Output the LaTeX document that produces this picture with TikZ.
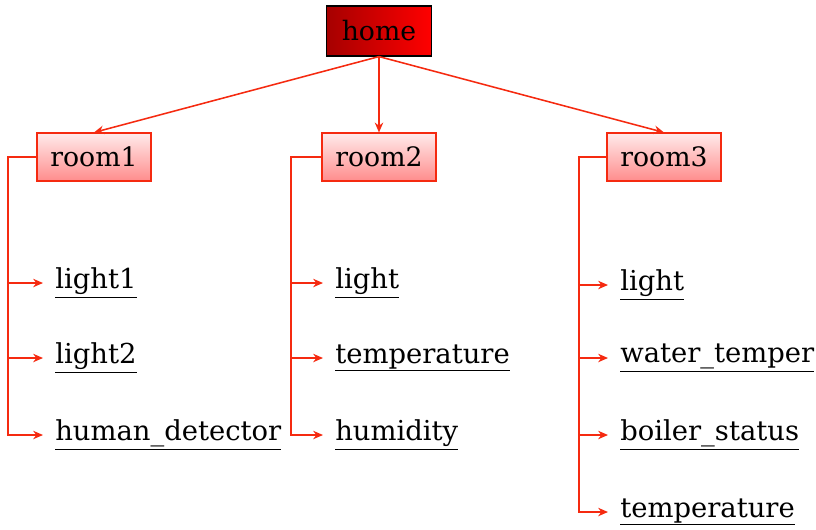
\documentclass[tikz,border=0pt]{standalone}
\usepackage{fontspec}
\setmainfont{DejaVu Serif}
\usetikzlibrary{arrows.meta}

\definecolor{linkred}{HTML}{F52A10}
\tikzstyle{rootBox}=[draw=black,thick,left color=red!65!black,right color=red,minimum width=2.625cm,minimum height=1.25cm,font=\fontsize{19}{23}\selectfont]
\tikzstyle{roomBox}=[draw=linkred,thick,top color=red!8,bottom color=red!45,minimum width=2.85cm,minimum height=1.2cm,font=\fontsize{19}{23}\selectfont]
\tikzstyle{leaf}=[anchor=west,inner sep=0.3cm,font=\fontsize{19.5}{23}\selectfont]
\tikzstyle{link}=[linkred,line width=1.1pt,-{Stealth[length=7pt,width=6pt]}]

\begin{document}
\begin{tikzpicture}[x=0.025cm,y=-0.025cm]
        \useasboundingbox (0,0) rectangle (816,529);
        % root and rooms
        \node[rootBox] (home) at (379,31) {home};
        \node[roomBox] (room1) at (94,157)  {room1};
        \node[roomBox] (room2) at (379,157) {room2};
        \node[roomBox] (room3) at (664,157) {room3};

        \draw [link] (home.south) to (room1.north);
        \draw [link] (home.south) to (room2.north);
        \draw [link] (home.south) to (room3.north);

        % leaves
        \node[leaf] (l11) at (43,283) {\underline{light1}};
        \node[leaf] (l12) at (43,358) {\underline{light2}};
        \node[leaf] (l13) at (43,435) {\underline{human\_detector}};

        \node[leaf] (l21) at (323,283) {\underline{light}};
        \node[leaf] (l22) at (323,358) {\underline{temperature}};
        \node[leaf] (l23) at (323,435) {\underline{humidity}};

        \node[leaf] (l31) at (608,285) {\underline{light}};
        \node[leaf] (l32) at (608,358) {\underline{water\_temper}};
        \node[leaf] (l33) at (608,435) {\underline{boiler\_status}};
        \node[leaf] (l34) at (608,512) {\underline{temperature}};

        \coordinate (t1) at (8,157);
        \coordinate (t2) at (291,157);
        \coordinate (t3) at (579,157);

        \draw [link] (room1.west) -- (t1) |- (l13.west);
        \draw [link] (t1 |- l11.west) -- (l11.west);
        \draw [link] (t1 |- l12.west) -- (l12.west);

        \draw [link] (room2.west) -- (t2) |- (l23.west);
        \draw [link] (t2 |- l21.west) -- (l21.west);
        \draw [link] (t2 |- l22.west) -- (l22.west);

        \draw [link] (room3.west) -- (t3) |- (l34.west);
        \draw [link] (t3 |- l31.west) -- (l31.west);
        \draw [link] (t3 |- l32.west) -- (l32.west);
        \draw [link] (t3 |- l33.west) -- (l33.west);
    \end{tikzpicture}
\end{document}
